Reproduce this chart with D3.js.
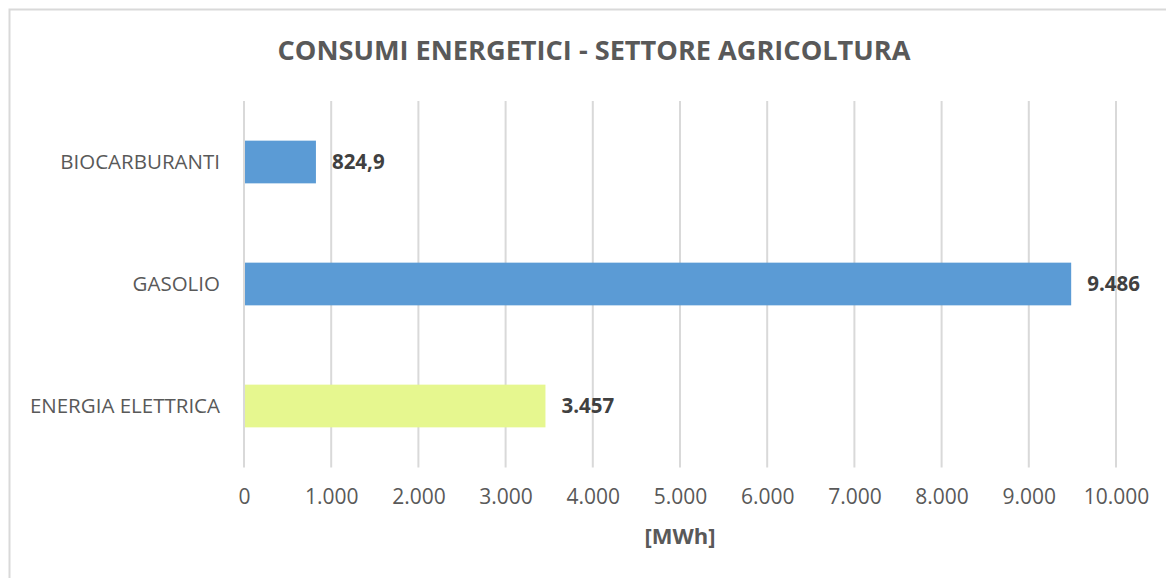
<!DOCTYPE html>
<html>
<head>
<meta charset="utf-8">
<script src="https://cdn.jsdelivr.net/npm/d3@7"></script>
<style>
  body { margin: 0; background: #fff; }
  svg { display: block; font-family: "Open Sans", sans-serif; }
</style>
</head>
<body>
<div id="chart"></div>
<script>
const width = 1166;
const height = 578;

const title = "CONSUMI ENERGETICI - SETTORE AGRICOLTURA";
const axisTitle = "[MWh]";
const categories = ["BIOCARBURANTI", "GASOLIO", "ENERGIA ELETTRICA"];
const values = [824.9, 9486, 3457];
const valueLabels = ["824,9", "9.486", "3.457"];
const barColors = ["#5b9bd5", "#5b9bd5", "#e6f78f"];
const xTicks = [0, 1000, 2000, 3000, 4000, 5000, 6000, 7000, 8000, 9000, 10000];

const margin = { top: 101, right: 50, bottom: 111, left: 244 };

const itLocale = d3.formatLocale({ decimal: ",", thousands: ".", grouping: [3], currency: ["€", ""] });
const fmt = itLocale.format(",d");

const x = d3.scaleLinear([0, 10000], [margin.left, width - margin.right]);
const y = d3.scaleBand(categories, [margin.top, height - margin.bottom]).paddingInner(0.65).paddingOuter(0.325);

const svg = d3.select("#chart").append("svg")
  .attr("width", width)
  .attr("height", height);

// chart border (cropped at right and bottom)
svg.append("rect")
  .attr("x", 9.5).attr("y", 9.5)
  .attr("width", width + 20).attr("height", height + 20)
  .attr("fill", "#fff")
  .attr("stroke", "#d9d9d9")
  .attr("stroke-width", 2);

svg.append("text")
  .attr("x", 594).attr("y", 60)
  .attr("text-anchor", "middle")
  .attr("font-size", 26)
  .attr("font-weight", "bold")
  .attr("fill", "#595959")
  .attr("textLength", 633)
  .attr("lengthAdjust", "spacingAndGlyphs")
  .text(title);

// gridlines
svg.append("g")
  .selectAll("line")
  .data(xTicks)
  .join("line")
  .attr("x1", d => x(d)).attr("x2", d => x(d))
  .attr("y1", margin.top).attr("y2", height - margin.bottom + 0.5)
  .attr("stroke", "#d9d9d9")
  .attr("stroke-width", 2);

// x axis labels
const xAxis = d3.axisBottom(x).tickValues(xTicks).tickFormat(fmt).tickSize(0).tickPadding(22);
svg.append("g")
  .attr("transform", `translate(0,${height - margin.bottom})`)
  .call(xAxis)
  .call(g => g.select(".domain").remove())
  .call(g => g.selectAll("text")
    .attr("font-family", "Open Sans, sans-serif")
    .attr("font-size", 21)
    .attr("fill", "#595959"));

// y axis labels
const yAxis = d3.axisLeft(y).tickSize(0).tickPadding(24);
svg.append("g")
  .attr("transform", `translate(${margin.left},0)`)
  .call(yAxis)
  .call(g => g.select(".domain").remove())
  .call(g => g.selectAll("text")
    .attr("font-family", "Open Sans, sans-serif")
    .attr("font-size", 20.5)
    .attr("fill", "#595959"));

// bars
svg.append("g")
  .selectAll("rect")
  .data(categories)
  .join("rect")
  .attr("x", x(0) + 1)
  .attr("y", d => y(d))
  .attr("width", (d, i) => x(values[i]) - x(0) - 1)
  .attr("height", y.bandwidth())
  .attr("fill", (d, i) => barColors[i]);

// value labels
svg.append("g")
  .selectAll("text")
  .data(categories)
  .join("text")
  .attr("x", (d, i) => x(values[i]) + 16)
  .attr("y", d => y(d) + y.bandwidth() / 2)
  .attr("dy", "0.35em")
  .attr("font-size", 20.5)
  .attr("font-weight", "bold")
  .attr("fill", "#404040")
  .text((d, i) => valueLabels[i]);

svg.append("text")
  .attr("x", 680).attr("y", 544)
  .attr("text-anchor", "middle")
  .attr("font-size", 22)
  .attr("font-weight", "bold")
  .attr("fill", "#595959")
  .text(axisTitle);
</script>
</body>
</html>
